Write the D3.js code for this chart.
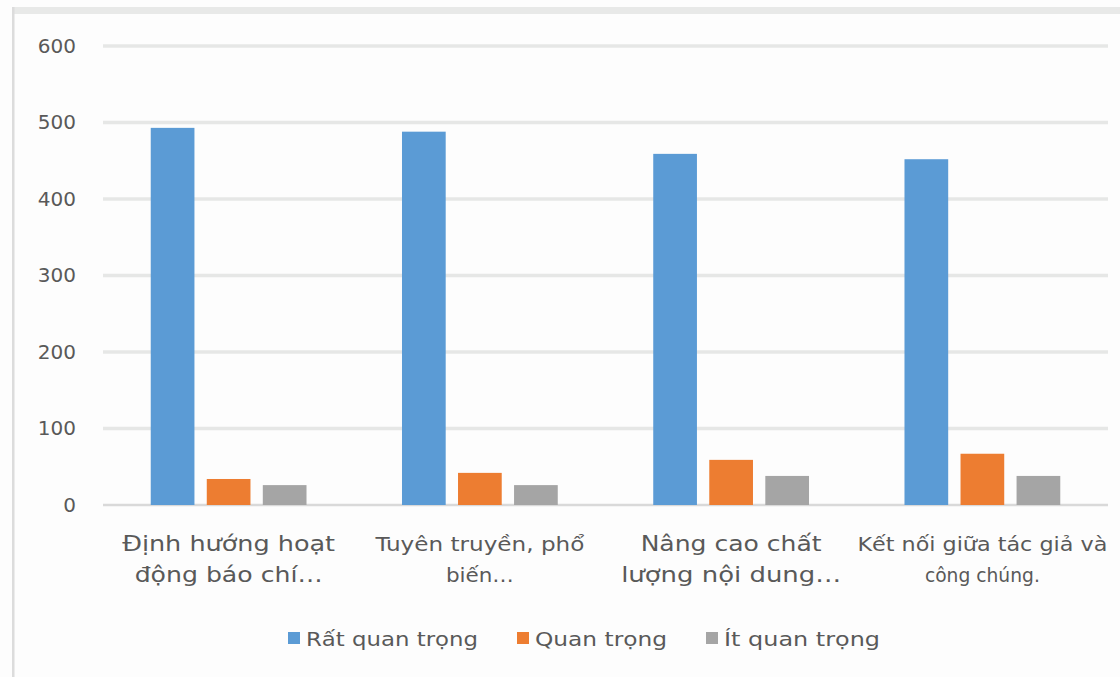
<!DOCTYPE html>
<html><head><meta charset="utf-8">
<script src="https://cdn.jsdelivr.net/npm/d3@7"></script>
<style>
html,body{margin:0;padding:0;background:#fff;}
svg{display:block;}
text{font-family:"DejaVu Sans",sans-serif;fill:#595959;}
</style></head>
<body>
<svg id="chart" width="1120" height="677"></svg>
<script>
// ---- data ----
const categories = ["Định hướng hoạt động báo chí…", "Tuyên truyền, phổ biến…", "Nâng cao chất lượng nội dung…", "Kết nối giữa tác giả và công chúng."];
const categoryLines = [["Định hướng hoạt", "động báo chí…"], ["Tuyên truyền, phổ", "biến…"], ["Nâng cao chất", "lượng nội dung…"], ["Kết nối giữa tác giả và", "công chúng."]];
const seriesNames = ["Rất quan trọng", "Quan trọng", "Ít quan trọng"];
const ratQuanTrong = [493, 488, 459, 452];
const quanTrong = [34, 42, 59, 67];
const itQuanTrong = [26, 26, 38, 38];
const yTicks = [0, 100, 200, 300, 400, 500, 600];

// ---- style ----
const colors = ["#5b9bd5", "#ed7d31", "#a5a5a5"];
const labelStyle = [
  {size: 22, w: [213, 188]},
  {size: 19, w: [209, 68]},
  {size: 22, w: [181, 220]},
  {size: 19, w: [250, 115]}
];

const svg = d3.select("#chart");
svg.append("rect").attr("width", 1120).attr("height", 677).attr("fill", "#fdfdfd");
// chart frame
svg.append("rect").attr("x", 12).attr("y", 7).attr("width", 1110).attr("height", 7).attr("fill", "#e8e9e8");
svg.append("rect").attr("x", 12).attr("y", 7).attr("width", 2.5).attr("height", 672).attr("fill", "#dcdcdc");

const mLeft = 103, mRight = 1108, mTop = 46, mBottom = 505;
const y = d3.scaleLinear().domain([0, 600]).range([mBottom, mTop]);
const x0 = d3.scaleBand().domain(categories).range([mLeft, mRight]).paddingInner(0.38).paddingOuter(0.19);
const x1 = d3.scaleBand().domain(seriesNames).range([0, x0.bandwidth()]).paddingInner(0.22);

// gridlines
const grid = svg.append("g");
grid.selectAll("line").data(yTicks).join("line")
  .attr("x1", mLeft).attr("x2", mRight)
  .attr("y1", d => y(d)).attr("y2", d => y(d))
  .attr("stroke", d => d === 0 ? "#d9d9d9" : "#e6e7e6")
  .attr("stroke-width", d => d === 0 ? 2.5 : 3.5);

// y axis labels
const yAxis = d3.axisLeft(y).tickValues(yTicks).tickSize(0).tickPadding(0);
const ya = svg.append("g").attr("transform", "translate(76,0)").call(yAxis);
ya.select(".domain").remove();
ya.selectAll("text").attr("font-family", "DejaVu Sans").attr("font-size", 20).attr("fill", "#595959");

// bars
const series = [ratQuanTrong, quanTrong, itQuanTrong];
const groups = svg.append("g").selectAll("g").data(categories).join("g")
  .attr("transform", d => `translate(${x0(d)},0)`);
groups.selectAll("rect").data((d, i) => seriesNames.map((s, j) => ({s, v: series[j][i], j}))).join("rect")
  .attr("x", d => x1(d.s)).attr("width", x1.bandwidth())
  .attr("y", d => y(d.v)).attr("height", d => mBottom - y(d.v))
  .attr("fill", d => colors[d.j]);

// category labels
const lab = svg.append("g");
categories.forEach((c, i) => {
  const cx = x0(c) + x0.bandwidth() / 2;
  const st = labelStyle[i];
  categoryLines[i].forEach((ln, k) => {
    lab.append("text").attr("x", cx).attr("y", 551 + k * 31)
      .attr("text-anchor", "middle").attr("font-size", st.size)
      .attr("textLength", st.w[k]).attr("lengthAdjust", "spacingAndGlyphs")
      .text(ln);
  });
});

// legend
const legendX = [288, 517, 706];
const legendW = [172, 132, 156];
const lg = svg.append("g");
seriesNames.forEach((s, i) => {
  lg.append("rect").attr("x", legendX[i]).attr("y", 632).attr("width", 12).attr("height", 12).attr("fill", colors[i]);
  lg.append("text").attr("x", legendX[i] + 18).attr("y", 646).attr("font-size", 19)
    .attr("textLength", legendW[i]).attr("lengthAdjust", "spacingAndGlyphs").text(s);
});
</script>
</body></html>
